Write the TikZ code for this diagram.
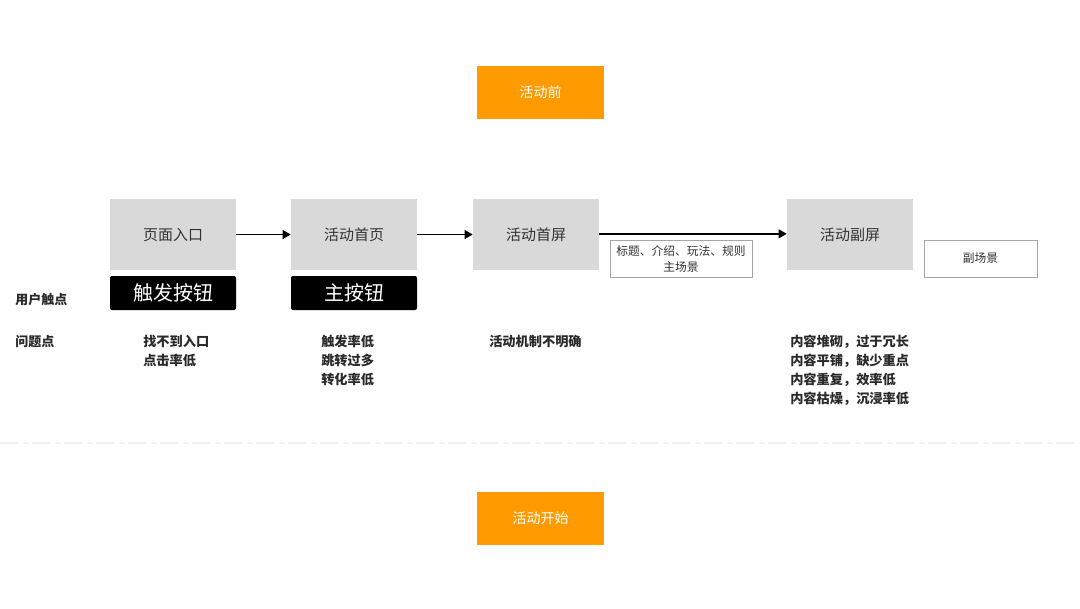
\documentclass[tikz,border=0pt]{standalone}
\usepackage{fontspec}
\setmainfont{Noto Sans CJK SC}
\newfontfamily\cjk{Noto Sans CJK SC}
\usetikzlibrary{arrows.meta}
\definecolor{orng}{HTML}{FF9A00}
\definecolor{grayfill}{HTML}{D9D9D9}
\definecolor{boxtxt}{HTML}{333333}
\definecolor{probtxt}{HTML}{2A2A2A}
\tikzset{
  phase/.style={fill=orng, draw=none, minimum width=95.25pt, minimum height=39.75pt, inner sep=0pt, text=white, font=\cjk\fontsize{10.5}{12}\selectfont},
  screen/.style={fill=grayfill, draw=none, minimum width=94.5pt, minimum height=53.25pt, inner sep=0pt, text=boxtxt, font=\cjk\fontsize{11.25}{13}\selectfont},
  btn/.style={fill=black, draw=none, rounded corners=1.5pt, minimum width=94.5pt, minimum height=25.5pt, inner sep=0pt, text=white, font=\cjk\fontsize{15}{17}\selectfont},
  tagbox/.style={fill=white, draw=gray!70, line width=0.5pt, inner sep=0pt, text=boxtxt, align=center, font=\cjk\fontsize{8.8}{12}\selectfont},
  rowlabel/.style={anchor=west, inner sep=0pt, text=probtxt, font=\cjk\bfseries\fontsize{9.75}{14.25}\selectfont},
  problem/.style={anchor=north west, inner sep=0pt, align=left, text=probtxt, font=\cjk\bfseries\fontsize{9.9}{14.25}\selectfont},
  flow/.style={-{Triangle[length=6pt,width=6.5pt]}, line width=1.3pt, black},
}
\begin{document}
\begin{tikzpicture}[x=0.75pt,y=-0.75pt]
\useasboundingbox (0,0) rectangle (1080,608);
\fill[white] (0,0) rectangle (1080,608);

% phases
\node[phase] (pre) at (540.5,92.5) {活动前};
\node[phase] (start) at (540.5,518.5) {活动开始};

% screens
\node[screen] (entry) at (173,234.5) {页面入口};
\node[screen] (home) at (354,234.5) {活动首页};
\node[screen] (first) at (536,234.5) {活动首屏};
\node[screen] (second) at (850,234.5) {活动副屏};

% buttons
\node[btn] (trig) at (173,293) {触发按钮};
\node[btn] (mainbtn) at (354,293) {主按钮};

% tag boxes
\node[tagbox, minimum width=106.5pt, minimum height=27.75pt] (tag) at (681,258.5) {标题、介绍、玩法、规则\\主场景};
\node[tagbox, minimum width=84.75pt, minimum height=27.75pt] (sub) at (980.5,258.5) {副场景};

% arrows
\draw[flow] (entry.east) -- (home.west);
\draw[flow] (home.east) -- (first.west);
\draw[flow] ([yshift=0.5pt]first.east) -- ([yshift=0.5pt]second.west);

% row labels
\node[rowlabel] (touch) at (15,300) {用户触点};
\node[rowlabel] (issue) at (15,342) {问题点};

% problems
\node[problem] (p1) at (143,335) {找不到入口\\点击率低};
\node[problem] (p2) at (321,335) {触发率低\\跳转过多\\转化率低};
\node[problem] (p3) at (489,335) {活动机制不明确};
\node[problem] (p4) at (790,335) {内容堆砌，过于冗长\\内容平铺，缺少重点\\内容重复，效率低\\内容枯燥，沉浸率低};

% faint divider
\coordinate (dl) at (0,443);
\coordinate (dr) at (1080,443);
\draw[black!5, line width=1.5pt, dash pattern=on 14pt off 3pt on 5pt off 2pt] (dl) -- (dr);
\end{tikzpicture}
\end{document}
